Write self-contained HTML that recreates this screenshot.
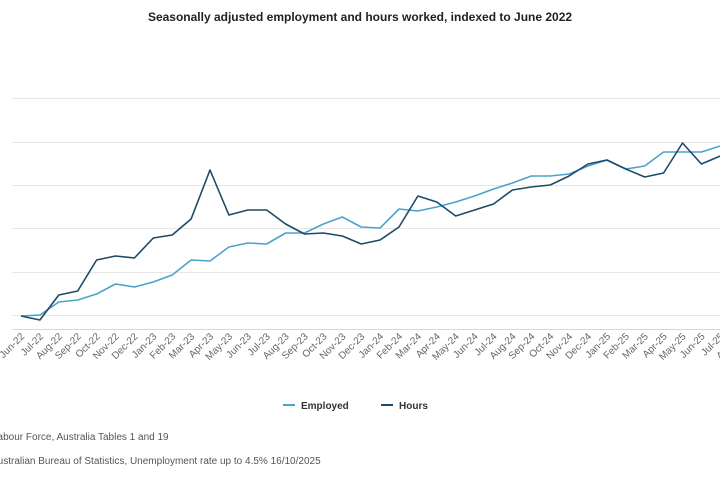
<!DOCTYPE html>
<html><head><meta charset="utf-8"><style>
html,body{margin:0;padding:0;background:#fff;}
svg{display:block;font-family:"Liberation Sans",Arial,sans-serif;}
</style></head><body>
<svg width="720" height="480" viewBox="0 0 720 480" xmlns="http://www.w3.org/2000/svg">
<text x="360" y="21" text-anchor="middle" font-size="12" font-weight="bold" fill="#222">Seasonally adjusted employment and hours worked, indexed to June 2022</text>
<g stroke="#e6e6e6" stroke-width="1">
<line x1="12" x2="720" y1="98.5" y2="98.5"/>
<line x1="12" x2="720" y1="142.5" y2="142.5"/>
<line x1="12" x2="720" y1="185.5" y2="185.5"/>
<line x1="12" x2="720" y1="228.5" y2="228.5"/>
<line x1="12" x2="720" y1="272.5" y2="272.5"/>
<line x1="12" x2="720" y1="315.5" y2="315.5"/>
<line x1="12" x2="720" y1="329.5" y2="329.5" stroke="#d8d8d8"/>
</g>
<g id="labels" font-size="10" fill="#666" text-anchor="end"></g>
<polyline id="emp" fill="none" stroke="#4ba3cc" stroke-width="1.6" stroke-linejoin="round"/>
<polyline id="hrs" fill="none" stroke="#1d4a68" stroke-width="1.6" stroke-linejoin="round"/>
<line x1="283" x2="295" y1="405" y2="405" stroke="#4ba3cc" stroke-width="2"/>
<text x="301" y="409" font-size="10" font-weight="bold" fill="#333">Employed</text>
<line x1="381" x2="393" y1="405" y2="405" stroke="#1d4a68" stroke-width="2"/>
<text x="399" y="409" font-size="10" font-weight="bold" fill="#333">Hours</text>
<text x="-8" y="440" font-size="10" fill="#555">Labour Force, Australia Tables 1 and 19</text>
<text x="-9" y="464" font-size="10" fill="#555">Australian Bureau of Statistics, Unemployment rate up to 4.5% 16/10/2025</text>
</svg>
<script>
var emp=[316,315,302,300,294,284,287,282,275,260,261,247,243,244,233,233,224,217,227,228,209,211,207,202,196,189,183,176,176,174,166,160,169,166,152,152,152,146,143];
var hrs=[316,320,295,291,260,256,258,238,235,219,170,215,210,210,224,234,233,236,244,240,227,196,202,216,210,204,190,187,185,176,164,160,169,177,173,143,164,156,150];
var x0=21,dx=18.9;
function pts(a){return a.map(function(v,i){return (x0+i*dx).toFixed(1)+","+v}).join(" ");}
document.getElementById("emp").setAttribute("points",pts(emp));
document.getElementById("hrs").setAttribute("points",pts(hrs));
var m=["Jun","Jul","Aug","Sep","Oct","Nov","Dec","Jan","Feb","Mar","Apr","May"];
var g=document.getElementById("labels"),s="";
for(var i=0;i<39;i++){var mi=i%12,yr=22+Math.floor((i+5)/12);var x=x0+i*dx+4,y=337;
s+='<text transform="translate('+x.toFixed(1)+','+y+') rotate(-45)">'+m[mi]+'-'+yr+'</text>';}
g.innerHTML=s;
</script>
</body></html>
